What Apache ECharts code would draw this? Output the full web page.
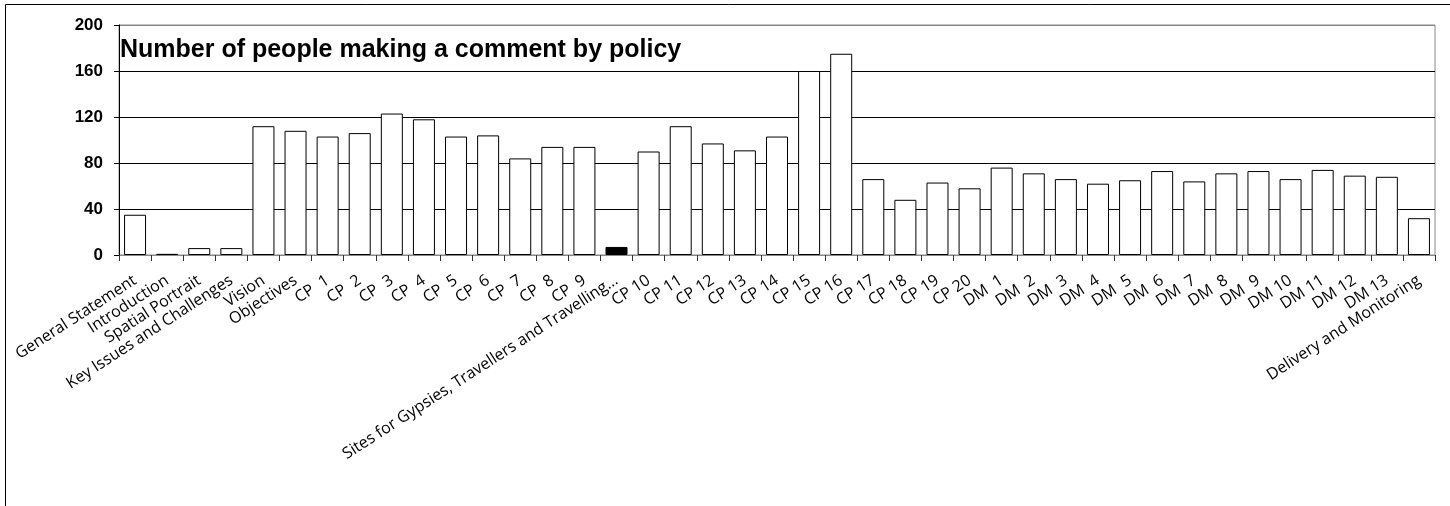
<!DOCTYPE html>
<html>
<head>
<meta charset="utf-8">
<script src="https://cdn.jsdelivr.net/npm/echarts@6/dist/echarts.min.js"></script>
<style>
html,body{margin:0;padding:0;background:#fff;}
#chart{width:1450px;height:506px;}
</style>
</head>
<body>
<div id="chart"></div>
<script>
const titleText = 'Number of people making a comment by policy';
const categories = [
  'General Statement','Introduction','Spatial Portrait','Key Issues and Challenges','Vision','Objectives',
  'CP  1','CP  2','CP  3','CP  4','CP  5','CP  6','CP  7','CP  8','CP  9',
  'Sites for Gypsies, Travellers and Travelling\u2026',
  'CP 10','CP 11','CP 12','CP 13','CP 14','CP 15','CP 16','CP 17','CP 18','CP 19','CP 20',
  'DM  1','DM  2','DM  3','DM  4','DM  5','DM  6','DM  7','DM  8','DM  9','DM 10','DM 11','DM 12','DM 13',
  'Delivery and Monitoring'
];
const values = [
  35, 1, 6, 6, 112, 108,
  103, 106, 123, 118, 103, 104, 84, 94, 94,
  7,
  90, 112, 97, 91, 103, 160, 175, 66, 48, 63, 58,
  76, 71, 66, 62, 65, 73, 64, 71, 73, 66, 74, 69, 68,
  32
];
const highlighted = ['Sites for Gypsies, Travellers and Travelling\u2026'];
const yTicks = [0, 40, 80, 120, 160, 200];

const chart = echarts.init(document.getElementById('chart'), null, {renderer: 'canvas'});
const data = values.map((v, i) => highlighted.includes(categories[i])
  ? {value: v, itemStyle: {color: '#000'}}
  : v);

chart.setOption({
  animation: false,
  backgroundColor: '#fff',
  graphic: [{
    type: 'rect',
    shape: {x: 5.5, y: 4.5, width: 1460, height: 520},
    style: {fill: 'none', stroke: '#000', lineWidth: 1},
    silent: true
  }],
  title: {
    text: titleText,
    left: 120,
    top: 38,
    padding: 0,
    textStyle: {fontFamily: 'Liberation Sans, Arial, sans-serif', fontWeight: 'bold', fontSize: 25, color: '#000'}
  },
  grid: {
    left: 119, right: 15, top: 25, bottom: 251,
    show: true, borderColor: '#888', borderWidth: 1, backgroundColor: 'transparent'
  },
  xAxis: {
    type: 'category',
    data: categories,
    boundaryGap: true,
    axisLine: {lineStyle: {color: '#888', width: 1}},
    axisTick: {show: true, interval: 0, length: 6, alignWithLabel: false, lineStyle: {color: '#333'}},
    axisLabel: {
      interval: 0, rotate: 33, margin: 24,
      fontFamily: 'Open Sans, sans-serif', fontSize: 16, color: '#000'
    },
    splitLine: {show: false}
  },
  yAxis: {
    type: 'value',
    min: yTicks[0], max: yTicks[yTicks.length - 1], interval: 40,
    axisLine: {show: true, lineStyle: {color: '#000', width: 1}},
    axisTick: {show: true, length: 5, lineStyle: {color: '#000'}},
    axisLabel: {margin: 16, fontFamily: 'Liberation Sans, Arial, sans-serif', fontWeight: 'bold', fontSize: 17, color: '#000'},
    splitLine: {show: true, lineStyle: {color: ['#000', '#000', '#000', '#000', '#000', '#888'], width: 1}}
  },
  series: [{
    type: 'bar',
    data: data,
    barWidth: 22,
    itemStyle: {color: '#fff', borderColor: '#000', borderWidth: 1}
  }]
});
</script>
</body>
</html>
